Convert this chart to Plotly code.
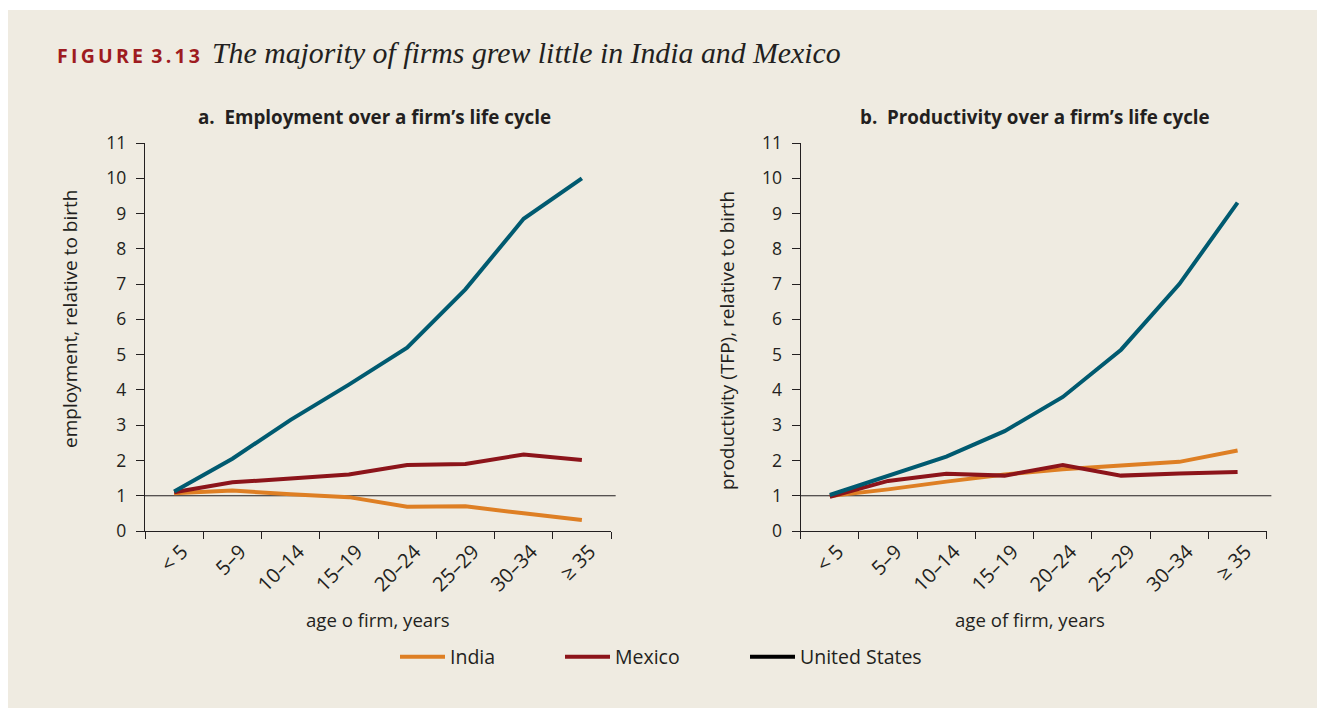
import plotly.graph_objects as go
from plotly.subplots import make_subplots

W, H = 1317, 700      # page body adds an 8px offset on the left and top
OX, OY = 8, 8

categories = ["< 5", "5–9", "10–14", "15–19", "20–24", "25–29", "30–34", "≥ 35"]

emp_india = [1.07, 1.15, 1.04, 0.96, 0.69, 0.70, 0.50, 0.31]
emp_mexico = [1.10, 1.38, 1.49, 1.60, 1.87, 1.90, 2.17, 2.01]
emp_us = [1.12, 2.05, 3.15, 4.15, 5.20, 6.85, 8.85, 10.0]

prod_india = [0.99, 1.18, 1.40, 1.60, 1.75, 1.86, 1.96, 2.28]
prod_mexico = [0.97, 1.42, 1.62, 1.57, 1.87, 1.57, 1.63, 1.67]
prod_us = [1.02, 1.57, 2.11, 2.83, 3.80, 5.14, 7.00, 9.31]

y_ticks = list(range(0, 12))

BG = "#EFEBE1"
INK = "#231F20"
ORANGE = "#DE7F24"
RED = "#8C141A"
TEAL = "#005A70"
FONT = "Open Sans"


def px(x):
    return (x - OX) / W


def py(y):
    return 1 - (y - OY) / H


fig = make_subplots(rows=1, cols=2)

for col, (ind, mex, us) in enumerate(
    [(emp_india, emp_mexico, emp_us), (prod_india, prod_mexico, prod_us)], start=1
):
    first = col == 1
    fig.add_trace(go.Scatter(x=categories, y=ind, mode="lines", name="India",
                             line=dict(color=ORANGE, width=4), showlegend=first,
                             legend="legend"), row=1, col=col)
    fig.add_trace(go.Scatter(x=categories, y=mex, mode="lines", name="Mexico",
                             line=dict(color=RED, width=4), showlegend=first,
                             legend="legend2"), row=1, col=col)
    fig.add_trace(go.Scatter(x=categories, y=us, mode="lines", name="United States",
                             line=dict(color=TEAL, width=4), showlegend=False),
                  row=1, col=col)

# key entry for United States (drawn in black in the original key)
fig.add_trace(go.Scatter(x=[None], y=[None], mode="lines", name="United States",
                         line=dict(color="black", width=4), legend="legend3"),
              row=1, col=1)

xdom_a = [px(145), px(611)]
xdom_b = [px(800.7), px(1266.7)]
ydom = [py(531), py(143)]

common_x = dict(type="category", range=[-0.5, 7.5], showline=True, linecolor=INK,
                linewidth=1.3, ticks="outside", tickson="boundaries", ticklen=7,
                tickcolor=INK, tickwidth=1.3, tickangle=-45, showgrid=False,
                zeroline=False, tickfont=dict(family=FONT, size=20, color=INK),
                ticklabelshift=8,
                categoryorder="array", categoryarray=categories)
common_y = dict(range=[0, 11], tickvals=y_ticks, showline=True, linecolor=INK,
                linewidth=1.3, ticks="outside", ticklen=8, tickcolor=INK,
                tickwidth=1.3, showgrid=False, zeroline=False,
                ticklabelstandoff=6,
                tickfont=dict(family=FONT, size=17.5, color=INK))

fig.update_xaxes(**common_x)
fig.update_yaxes(**common_y)
fig.update_layout(
    xaxis=dict(domain=xdom_a), xaxis2=dict(domain=xdom_b),
    yaxis=dict(domain=ydom), yaxis2=dict(domain=ydom),
)

shapes = [
    dict(type="rect", xref="paper", yref="paper", x0=-0.01, x1=1.01, y0=py(10),
         y1=1.01, fillcolor="white", line=dict(width=0), layer="below"),
]
for xr, yr in [("x domain", "y"), ("x2 domain", "y2")]:
    shapes.append(dict(type="line", xref=xr, yref=yr, x0=0, x1=1.01, y0=1, y1=1,
                       line=dict(color=INK, width=1.2), layer="below"))

annotations = [
    dict(text="F\u2009I\u2009G\u2009U\u2009R\u2009E\u2009 3\u2009.\u20091\u20093",
         x=px(55), y=py(55), xanchor="left", yanchor="middle",
         font=dict(family=FONT, size=19.5, color="#9E1B20", weight="bold")),
    dict(text="<i>The majority of firms grew little in India and Mexico</i>",
         x=px(210), y=py(53), xanchor="left", yanchor="middle",
         font=dict(family="Liberation Serif", size=29.8, color=INK)),
    dict(text="<b>a.  Employment over a firm’s life cycle</b>",
         x=px(374), y=py(117), xanchor="center", yanchor="middle",
         font=dict(family=FONT, size=18.8, color=INK)),
    dict(text="<b>b.  Productivity over a firm’s life cycle</b>",
         x=px(1035), y=py(117), xanchor="center", yanchor="middle",
         font=dict(family=FONT, size=18.8, color=INK)),
    dict(text="employment, relative to birth", textangle=-90,
         x=px(70), y=py(319), xanchor="center", yanchor="middle",
         font=dict(family=FONT, size=19, color=INK)),
    dict(text="productivity (TFP), relative to birth", textangle=-90,
         x=px(727), y=py(341), xanchor="center", yanchor="middle",
         font=dict(family=FONT, size=19, color=INK)),
    dict(text="age o firm, years", x=px(378), y=py(619), xanchor="center",
         yanchor="middle", font=dict(family=FONT, size=18.6, color=INK)),
    dict(text="age of firm, years", x=px(1030), y=py(619), xanchor="center",
         yanchor="middle", font=dict(family=FONT, size=18.6, color=INK)),
]
for a in annotations:
    a.update(xref="paper", yref="paper", showarrow=False)

leg_common = dict(orientation="h", xanchor="left", yanchor="middle",
                  bgcolor="rgba(0,0,0,0)", borderwidth=0,
                  font=dict(family=FONT, size=19.5, color=INK), itemwidth=45)

fig.update_layout(
    width=W, height=H,
    margin=dict(l=0, r=0, t=0, b=0, autoexpand=False),
    paper_bgcolor=BG, plot_bgcolor="rgba(0,0,0,0)",
    shapes=shapes, annotations=annotations,
    showlegend=True,
    legend=dict(x=px(395), y=py(657), **leg_common),
    legend2=dict(x=px(560), y=py(657), **leg_common),
    legend3=dict(x=px(745), y=py(657), **leg_common),
    hovermode=False,
)

fig.write_html("out.html")
